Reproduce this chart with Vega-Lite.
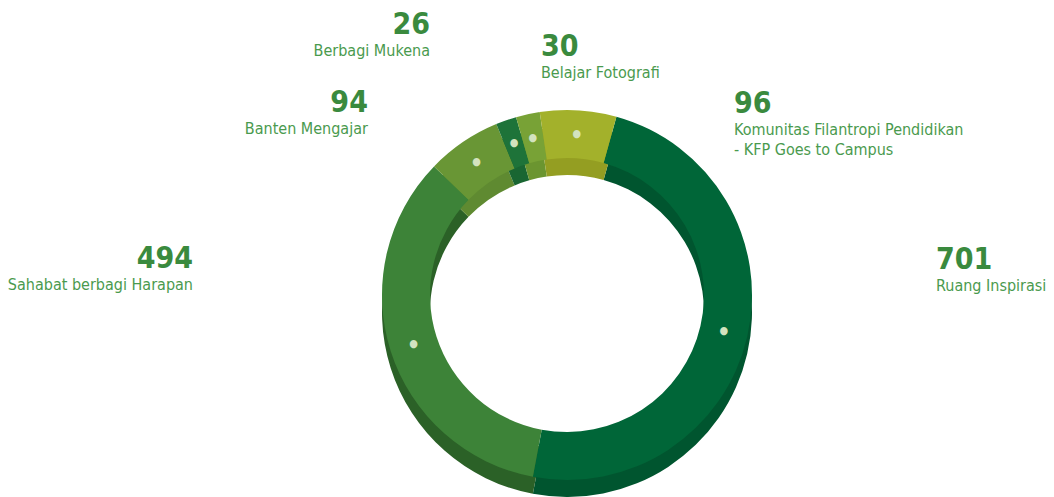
{
  "$schema": "https://vega.github.io/schema/vega-lite/v6.json",
  "autosize": {"type": "none"},
  "width": 974,
  "height": 404,
  "padding": {"left": 80, "top": 93, "right": 0, "bottom": 0},
  "background": "white",
  "config": {
    "view": {"stroke": null},
    "text": {"font": "DejaVu Sans Condensed, DejaVu Sans, sans-serif"}
  },
  "data": {
    "values": [
      {"idx": 1, "name": "Ruang Inspirasi", "value": 701},
      {"idx": 2, "name": "Sahabat berbagi Harapan", "value": 494},
      {"idx": 3, "name": "Banten Mengajar", "value": 94},
      {"idx": 4, "name": "Berbagi Mukena", "value": 26},
      {"idx": 5, "name": "Belajar Fotografi", "value": 30},
      {"idx": 6, "name": "Komunitas Filantropi Pendidikan\n- KFP Goes to Campus", "value": 96}
    ]
  },
  "transform": [
    {"stack": "value", "groupby": [], "sort": [{"field": "idx", "order": "ascending"}], "as": ["v0", "v1"]}
  ],
  "layer": [
    {
      "mark": {"type": "arc", "radius": 185, "radius2": 137, "yOffset": 17},
      "encoding": {
        "theta": {"field": "v0", "type": "quantitative", "scale": {"range": [0.2705, 6.5537], "nice": false, "zero": true}},
        "theta2": {"field": "v1"},
        "color": {
          "field": "name", "type": "nominal", "legend": null,
          "scale": {
            "domain": ["Ruang Inspirasi", "Sahabat berbagi Harapan", "Banten Mengajar", "Berbagi Mukena", "Belajar Fotografi", "Komunitas Filantropi Pendidikan\n- KFP Goes to Campus"],
            "range": ["#00552f", "#2b6127", "#5f8a31", "#196632", "#6b9530", "#949e22"]
          }
        }
      }
    },
    {
      "mark": {"type": "arc", "radius": 185, "radius2": 137},
      "encoding": {
        "theta": {"field": "v0", "type": "quantitative"},
        "theta2": {"field": "v1"},
        "fill": {
          "field": "name", "type": "nominal", "legend": null,
          "scale": {
            "domain": ["Ruang Inspirasi", "Sahabat berbagi Harapan", "Banten Mengajar", "Berbagi Mukena", "Belajar Fotografi", "Komunitas Filantropi Pendidikan\n- KFP Goes to Campus"],
            "range": ["#006638", "#3d8338", "#699635", "#1e7339", "#78a236", "#a3b12b"]
          }
        }
      }
    },
    {
      "mark": {"type": "text", "radius": 161, "fontSize": 11, "color": "#d3e3bf", "align": "center", "baseline": "middle"},
      "encoding": {
        "theta": {"field": "value", "type": "quantitative", "stack": true},
        "order": {"field": "idx", "type": "quantitative"},
        "text": {"value": "●"}
      }
    },
    {"transform": [{"filter": {"field": "idx", "equal": 1}}],
     "mark": {"type": "text", "radius": 369.9, "thetaOffset": 1.2299, "align": "left", "baseline": "alphabetic", "fontSize": 30, "fontWeight": "bold", "color": "#3a8a3e"},
     "encoding": {"theta": {"field": "v0", "type": "quantitative"}, "text": {"field": "value"}}},
    {"transform": [{"filter": {"field": "idx", "equal": 1}}],
     "mark": {"type": "text", "radius": 369.9, "thetaOffset": 1.2299, "dy": 22, "align": "left", "baseline": "alphabetic", "fontSize": 16, "color": "#4a9a4e", "lineBreak": "\n", "lineHeight": 20},
     "encoding": {"theta": {"field": "v0", "type": "quantitative"}, "text": {"field": "name"}}},
    {"transform": [{"filter": {"field": "idx", "equal": 2}}],
     "mark": {"type": "text", "radius": 375.0, "thetaOffset": 1.4574, "align": "right", "baseline": "alphabetic", "fontSize": 30, "fontWeight": "bold", "color": "#3a8a3e"},
     "encoding": {"theta": {"field": "v0", "type": "quantitative"}, "text": {"field": "value"}}},
    {"transform": [{"filter": {"field": "idx", "equal": 2}}],
     "mark": {"type": "text", "radius": 375.0, "thetaOffset": 1.4574, "dy": 22, "align": "right", "baseline": "alphabetic", "fontSize": 16, "color": "#4a9a4e", "lineBreak": "\n", "lineHeight": 20},
     "encoding": {"theta": {"field": "v0", "type": "quantitative"}, "text": {"field": "name"}}},
    {"transform": [{"filter": {"field": "idx", "equal": 3}}],
     "mark": {"type": "text", "radius": 270.4, "thetaOffset": -0.0253, "align": "right", "baseline": "alphabetic", "fontSize": 30, "fontWeight": "bold", "color": "#3a8a3e"},
     "encoding": {"theta": {"field": "v0", "type": "quantitative"}, "text": {"field": "value"}}},
    {"transform": [{"filter": {"field": "idx", "equal": 3}}],
     "mark": {"type": "text", "radius": 270.4, "thetaOffset": -0.0253, "dy": 22, "align": "right", "baseline": "alphabetic", "fontSize": 16, "color": "#4a9a4e", "lineBreak": "\n", "lineHeight": 20},
     "encoding": {"theta": {"field": "v0", "type": "quantitative"}, "text": {"field": "name"}}},
    {"transform": [{"filter": {"field": "idx", "equal": 4}}],
     "mark": {"type": "text", "radius": 294.8, "thetaOffset": -0.0911, "align": "right", "baseline": "alphabetic", "fontSize": 30, "fontWeight": "bold", "color": "#3a8a3e"},
     "encoding": {"theta": {"field": "v0", "type": "quantitative"}, "text": {"field": "value"}}},
    {"transform": [{"filter": {"field": "idx", "equal": 4}}],
     "mark": {"type": "text", "radius": 294.8, "thetaOffset": -0.0911, "dy": 22, "align": "right", "baseline": "alphabetic", "fontSize": 16, "color": "#4a9a4e", "lineBreak": "\n", "lineHeight": 20},
     "encoding": {"theta": {"field": "v0", "type": "quantitative"}, "text": {"field": "name"}}},
    {"transform": [{"filter": {"field": "idx", "equal": 5}}],
     "mark": {"type": "text", "radius": 240.4, "thetaOffset": 0.1703, "align": "left", "baseline": "alphabetic", "fontSize": 30, "fontWeight": "bold", "color": "#3a8a3e"},
     "encoding": {"theta": {"field": "v0", "type": "quantitative"}, "text": {"field": "value"}}},
    {"transform": [{"filter": {"field": "idx", "equal": 5}}],
     "mark": {"type": "text", "radius": 240.4, "thetaOffset": 0.1703, "dy": 22, "align": "left", "baseline": "alphabetic", "fontSize": 16, "color": "#4a9a4e", "lineBreak": "\n", "lineHeight": 20},
     "encoding": {"theta": {"field": "v0", "type": "quantitative"}, "text": {"field": "name"}}},
    {"transform": [{"filter": {"field": "idx", "equal": 6}}],
     "mark": {"type": "text", "radius": 247.0, "thetaOffset": 0.8905, "align": "left", "baseline": "alphabetic", "fontSize": 30, "fontWeight": "bold", "color": "#3a8a3e"},
     "encoding": {"theta": {"field": "v0", "type": "quantitative"}, "text": {"field": "value"}}},
    {"transform": [{"filter": {"field": "idx", "equal": 6}}],
     "mark": {"type": "text", "radius": 247.0, "thetaOffset": 0.8905, "dy": 22, "align": "left", "baseline": "alphabetic", "fontSize": 16, "color": "#4a9a4e", "lineBreak": "\n", "lineHeight": 20},
     "encoding": {"theta": {"field": "v0", "type": "quantitative"}, "text": {"field": "name"}}}
  ]
}
